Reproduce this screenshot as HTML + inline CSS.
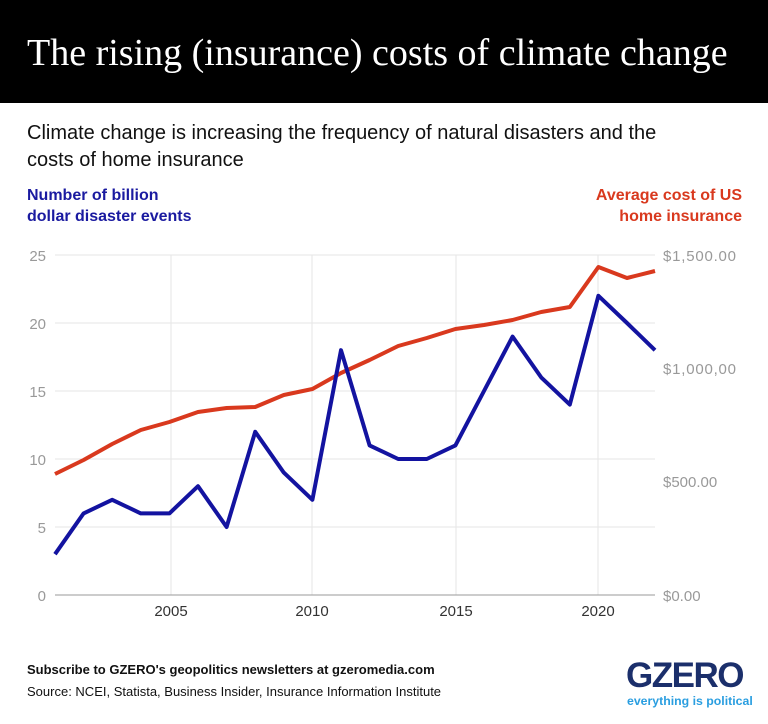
<!DOCTYPE html>
<html><head><style>
body{margin:0;width:768px;height:724px;background:#fff;font-family:"Liberation Sans",sans-serif;overflow:hidden;position:relative}
.hdr{position:absolute;left:0;top:0;width:768px;height:103px;background:#000;color:#fff;font-family:"Liberation Serif",serif;font-size:38px;line-height:107px;padding-left:27px;box-sizing:border-box;white-space:nowrap}
.sub{position:absolute;left:27px;top:120px;font-size:20px;line-height:27px;color:#111;width:680px}
.lb{position:absolute;left:27px;top:185px;font-size:16px;font-weight:bold;color:#1a1aa0;line-height:21px}
.rb{position:absolute;right:26px;top:185px;font-size:16px;font-weight:bold;color:#d9391e;line-height:21px;text-align:right}
.f1{position:absolute;left:27px;top:662px;font-size:13px;font-weight:bold;color:#111}
.f2{position:absolute;left:27px;top:684px;font-size:13px;color:#111}
.g{position:absolute;left:626px;top:656px;font-size:35px;font-weight:900;color:#1b2f6b;letter-spacing:-1.5px}
.g2{position:absolute;left:627px;top:694px;font-size:12.3px;font-weight:bold;color:#2a9ee0}
</style></head><body>
<div class="hdr">The rising (insurance) costs of climate change</div>
<div class="sub">Climate change is increasing the frequency of natural disasters and the costs of home insurance</div>
<div class="lb">Number of billion<br>dollar disaster events</div>
<div class="rb">Average cost of US<br>home insurance</div>
<svg width="768" height="724" style="position:absolute;left:0;top:0" font-family="Liberation Sans, sans-serif">
<g stroke="#e6e6e6" stroke-width="1">
<line x1="55" x2="655" y1="255" y2="255"/><line x1="55" x2="655" y1="323" y2="323"/><line x1="55" x2="655" y1="391" y2="391"/><line x1="55" x2="655" y1="459" y2="459"/><line x1="55" x2="655" y1="527" y2="527"/>
<line x1="171" x2="171" y1="255" y2="595"/><line x1="312" x2="312" y1="255" y2="595"/><line x1="456" x2="456" y1="255" y2="595"/><line x1="598" x2="598" y1="255" y2="595"/>
</g>
<line x1="55" x2="655" y1="595" y2="595" stroke="#999" stroke-width="1"/>
<g fill="#999" font-size="15" text-anchor="end">
<text x="46" y="261">25</text><text x="46" y="329">20</text><text x="46" y="397">15</text><text x="46" y="465">10</text><text x="46" y="533">5</text><text x="46" y="601">0</text>
</g>
<g fill="#999" font-size="15">
<text x="663" y="261" textLength="73">$1,500.00</text><text x="663" y="374" textLength="73">$1,000,00</text><text x="663" y="487">$500.00</text><text x="663" y="601">$0.00</text>
</g>
<g fill="#333" font-size="15" text-anchor="middle">
<text x="171" y="616">2005</text><text x="312" y="616">2010</text><text x="456" y="616">2015</text><text x="598" y="616">2020</text>
</g>
<polyline fill="none" stroke="#d9391e" stroke-width="4" stroke-linejoin="round" points="55,474 83.6,460 112.2,444 140.8,430 169.4,422 198,412 226.6,408 255.2,407 283.8,395 312.4,389 341,373 369.6,360 398.2,346 426.8,338 455.4,329 484,325 512.6,320 541.2,312 569.8,307 598.4,267 627,278 655,271"/>
<polyline fill="none" stroke="#1313a0" stroke-width="4" stroke-linejoin="round" points="55,554.2 83.6,513.4 112.2,499.8 140.8,513.4 169.4,513.4 198,486.2 226.6,527 255.2,431.8 283.8,472.6 312.4,499.8 341,350.2 369.6,445.4 398.2,459 426.8,459 455.4,445.4 484,391 512.6,336.6 541.2,377.4 569.8,404.6 598.4,295.8 627,323 655,350.2"/>
</svg>
<div class="f1">Subscribe to GZERO's geopolitics newsletters at gzeromedia.com</div>
<div class="f2">Source: NCEI, Statista, Business Insider, Insurance Information Institute</div>
<div class="g">GZERO</div>
<div class="g2">everything is political</div>
</body></html>
